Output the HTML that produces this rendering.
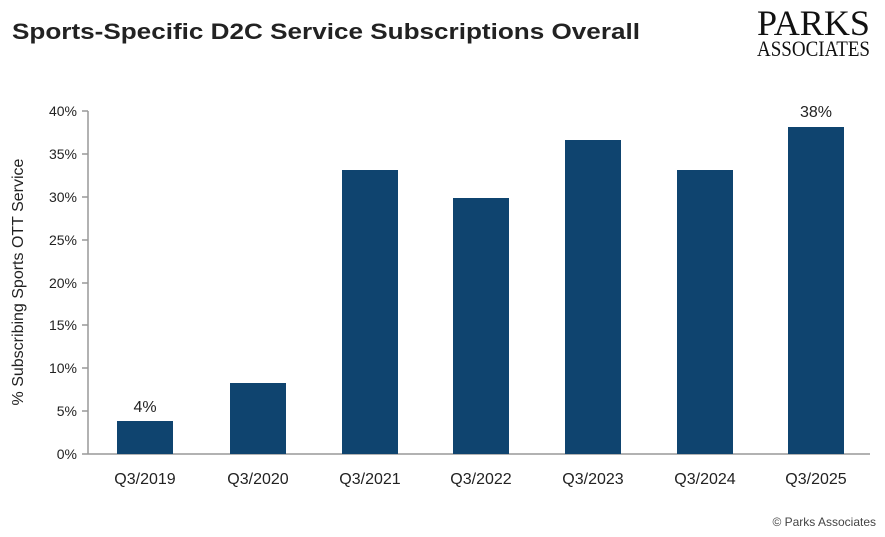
<!DOCTYPE html><html><head><style>body{margin:0;background:#fff}svg{display:block}text{font-family:"Liberation Sans",sans-serif}</style></head><body>
<svg width="885" height="537" xmlns="http://www.w3.org/2000/svg">
<text x="12" y="39" font-size="22" font-weight="bold" fill="#222" textLength="628" lengthAdjust="spacingAndGlyphs">Sports-Specific D2C Service Subscriptions Overall</text>
<text x="757" y="35" font-size="36" fill="#111" textLength="113" lengthAdjust="spacingAndGlyphs" style="font-family:'Liberation Serif',serif">PARKS</text>
<text x="757" y="56" font-size="22" fill="#111" textLength="113" lengthAdjust="spacingAndGlyphs" style="font-family:'Liberation Serif',serif">ASSOCIATES</text>
<g stroke="#999" stroke-width="1.5">
<line x1="88" y1="111" x2="88" y2="454"/><line x1="82" y1="454" x2="870" y2="454"/>
<line x1="82" y1="111" x2="88" y2="111"/><line x1="82" y1="154" x2="88" y2="154"/><line x1="82" y1="197" x2="88" y2="197"/><line x1="82" y1="240" x2="88" y2="240"/><line x1="82" y1="283" x2="88" y2="283"/><line x1="82" y1="325" x2="88" y2="325"/><line x1="82" y1="368" x2="88" y2="368"/><line x1="82" y1="411" x2="88" y2="411"/>
</g>
<g font-size="14" fill="#222" text-anchor="end">
<text x="77" y="116">40%</text><text x="77" y="159">35%</text><text x="77" y="202">30%</text><text x="77" y="245">25%</text><text x="77" y="288">20%</text><text x="77" y="330">15%</text><text x="77" y="373">10%</text><text x="77" y="416">5%</text><text x="77" y="459">0%</text>
</g>
<text transform="translate(23,282) rotate(-90)" font-size="16" fill="#222" text-anchor="middle">% Subscribing Sports OTT Service</text>
<g fill="#0f446f">
<rect x="117" y="421" width="56" height="33"/><rect x="230" y="383" width="56" height="71"/><rect x="342" y="170" width="56" height="284"/><rect x="453" y="198" width="56" height="256"/><rect x="565" y="140" width="56" height="314"/><rect x="677" y="170" width="56" height="284"/><rect x="788" y="127" width="56" height="327"/>
</g>
<text x="145" y="412" font-size="16" fill="#222" text-anchor="middle">4%</text>
<text x="816" y="117" font-size="16" fill="#222" text-anchor="middle">38%</text>
<g font-size="16" fill="#222" text-anchor="middle">
<text x="145" y="484">Q3/2019</text><text x="258" y="484">Q3/2020</text><text x="370" y="484">Q3/2021</text><text x="481" y="484">Q3/2022</text><text x="593" y="484">Q3/2023</text><text x="705" y="484">Q3/2024</text><text x="816" y="484">Q3/2025</text>
</g>
<text x="876" y="526" font-size="12" fill="#444" text-anchor="end">© Parks Associates</text>
</svg></body></html>
